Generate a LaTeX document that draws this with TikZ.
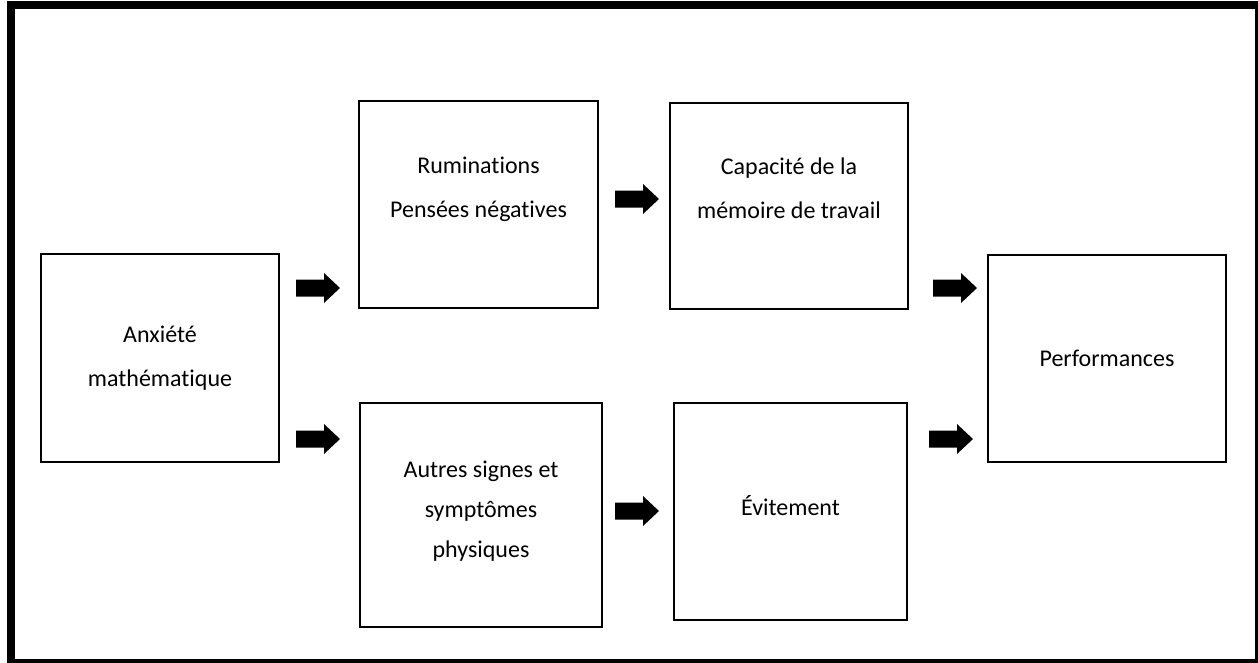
\documentclass[tikz,border=0pt]{standalone}
\usepackage{fontspec}
\setmainfont{Carlito}[Ligatures={NoCommon}]

\tikzset{
  box/.style={draw=black, line width=1.6pt, rectangle, inner sep=0pt},
  txt/.style={align=center, inner sep=0pt, font=\fontsize{24}{44}\selectfont},
  % filled block arrow, 44 long, shaft 17 thick, head 30 wide and 16 long
  blockarrow/.pic={
    \fill[black] (-22,-8.5) -- (6,-8.5) -- (6,-15) -- (22,0) -- (6,15)
      -- (6,8.5) -- (-22,8.5) -- cycle;
  },
}

\begin{document}
\begin{tikzpicture}[x=1pt,y=-1pt]
  \useasboundingbox (0,0) rectangle (1258,662);
  \clip (0,0) rectangle (1258,662);
  % outer frame
  \draw[line width=8pt] (11,5) rectangle (1259,663);

  % boxes
  \node[box, minimum width=238pt, minimum height=208pt] (anx)  at (160,358) {};
  \node[box, minimum width=239pt, minimum height=207pt] (rum)  at (478.5,204.5) {};
  \node[box, minimum width=238pt, minimum height=206pt] (cap)  at (789,206) {};
  \node[box, minimum width=238pt, minimum height=207pt] (perf) at (1107,358.5) {};
  \node[box, minimum width=242pt, minimum height=224pt] (aut)  at (481,515) {};
  \node[box, minimum width=233pt, minimum height=217pt] (evi)  at (790.5,511.5) {};

  % labels
  \node[txt] (anxT)  at (anx.center)        {Anxiété\\mathématique};
  \node[txt] (rumT)  at (478.5,189)         {Ruminations\\Pensées négatives};
  \node[txt] (capT)  at (789,188)           {Capacité de la\\mémoire de travail};
  \node[txt] (perfT) at (1107,358.5)        {Performances};
  \node[txt, font=\fontsize{24}{40}\selectfont] (autT) at (481,511.5) {Autres signes et\\symptômes\\physiques};
  \node[txt] (eviT)  at (790.5,505.5)       {Évitement};

  % block arrows between the boxes
  \pic (a1) at (318,288) {blockarrow};
  \pic (a2) at (637,199) {blockarrow};
  \pic (a3) at (955,288) {blockarrow};
  \pic (a4) at (318,439) {blockarrow};
  \pic (a5) at (637,511) {blockarrow};
  \pic (a6) at (951,439) {blockarrow};
\end{tikzpicture}
\end{document}
